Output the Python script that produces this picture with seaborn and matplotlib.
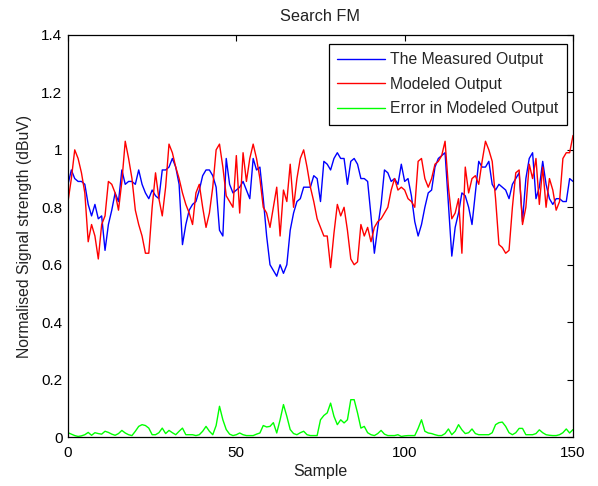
import numpy as np
import pandas as pd
import matplotlib
matplotlib.use("Agg")
import matplotlib.pyplot as plt
import seaborn as sns

samples = list(range(151))

measured = [
    0.88, 0.93, 0.90, 0.89, 0.89, 0.88, 0.81, 0.77, 0.81, 0.76,
    0.77, 0.65, 0.74, 0.79, 0.85, 0.82, 0.93, 0.88, 0.89, 0.89,
    0.88, 0.93, 0.88, 0.85, 0.83, 0.86, 0.84, 0.83, 0.93, 0.93,
    0.94, 0.97, 0.94, 0.88, 0.67, 0.74, 0.79, 0.81, 0.82, 0.86,
    0.91, 0.93, 0.93, 0.91, 0.87, 0.72, 0.70, 0.97, 0.88, 0.85,
    0.86, 0.87, 0.89, 0.86, 0.83, 0.97, 0.93, 0.94, 0.83, 0.70,
    0.60, 0.58, 0.56, 0.60, 0.57, 0.60, 0.72, 0.78, 0.82, 0.83,
    0.87, 0.87, 0.87, 0.91, 0.90, 0.82, 0.96, 0.95, 0.93, 0.97,
    0.99, 0.97, 0.97, 0.88, 0.96, 0.97, 0.95, 0.90, 0.90, 0.89,
    0.77, 0.64, 0.73, 0.81, 0.93, 0.92, 0.89, 0.90, 0.88, 0.95,
    0.89, 0.90, 0.84, 0.75, 0.70, 0.74, 0.80, 0.85, 0.86, 0.94,
    0.97, 0.98, 0.99, 0.81, 0.63, 0.73, 0.78, 0.85, 0.84, 0.80,
    0.74, 0.85, 0.96, 0.94, 0.94, 0.96, 0.88, 0.86, 0.88, 0.87,
    0.86, 0.83, 0.88, 0.90, 0.92, 0.75, 0.90, 0.97, 0.99, 0.83,
    0.87, 0.96, 0.88, 0.83, 0.81, 0.83, 0.83, 0.82, 0.82, 0.90,
    0.89,
]

modeled = [
    0.82, 0.90, 1.00, 0.97, 0.92, 0.85, 0.68, 0.74, 0.70, 0.62,
    0.74, 0.77, 0.89, 0.88, 0.85, 0.79, 0.89, 1.03, 0.97, 0.90,
    0.79, 0.74, 0.70, 0.64, 0.64, 0.80, 0.92, 0.83, 0.77, 0.87,
    1.02, 0.99, 0.94, 0.90, 0.85, 0.81, 0.78, 0.74, 0.85, 0.88,
    0.80, 0.73, 0.78, 0.87, 1.00, 1.02, 0.94, 0.84, 0.82, 0.80,
    0.98, 0.78, 0.99, 0.89, 0.97, 1.02, 0.97, 0.90, 0.80, 0.78,
    0.73, 0.80, 0.87, 0.70, 0.86, 0.82, 0.95, 0.80, 0.90, 0.97,
    1.00, 0.94, 0.87, 0.82, 0.76, 0.73, 0.70, 0.70, 0.59, 0.71,
    0.81, 0.77, 0.80, 0.72, 0.62, 0.60, 0.61, 0.74, 0.70, 0.73,
    0.68, 0.73, 0.75, 0.76, 0.78, 0.80, 0.86, 0.90, 0.86, 0.87,
    0.86, 0.83, 0.82, 0.80, 0.96, 0.97, 0.90, 0.87, 0.90, 0.95,
    0.96, 0.98, 1.03, 0.87, 0.76, 0.78, 0.83, 0.64, 0.94, 0.85,
    0.90, 0.91, 0.88, 0.96, 1.03, 1.00, 0.96, 0.83, 0.67, 0.66,
    0.64, 0.65, 0.80, 0.92, 0.93, 0.74, 0.80, 0.95, 0.90, 0.97,
    0.81, 0.94, 0.80, 0.90, 0.86, 0.79, 0.82, 0.97, 0.99, 0.99,
    1.05,
]

error = [
    0.015, 0.010, 0.005, 0.002, 0.004, 0.008, 0.016, 0.006, 0.015, 0.012,
    0.010, 0.020, 0.016, 0.010, 0.006, 0.012, 0.023, 0.014, 0.008, 0.005,
    0.020, 0.037, 0.043, 0.040, 0.031, 0.008, 0.008, 0.015, 0.031, 0.012,
    0.023, 0.015, 0.008, 0.020, 0.031, 0.008, 0.008, 0.008, 0.005, 0.008,
    0.020, 0.037, 0.020, 0.008, 0.040, 0.107, 0.060, 0.026, 0.010, 0.005,
    0.008, 0.014, 0.008, 0.005, 0.005, 0.005, 0.010, 0.014, 0.040, 0.035,
    0.037, 0.050, 0.014, 0.060, 0.113, 0.072, 0.026, 0.012, 0.008, 0.015,
    0.020, 0.008, 0.005, 0.005, 0.005, 0.060, 0.075, 0.084, 0.118, 0.072,
    0.043, 0.060, 0.049, 0.060, 0.130, 0.130, 0.084, 0.031, 0.037, 0.015,
    0.008, 0.005, 0.012, 0.023, 0.010, 0.005, 0.005, 0.005, 0.008, 0.002,
    0.004, 0.005, 0.005, 0.005, 0.030, 0.060, 0.020, 0.014, 0.012, 0.008,
    0.005, 0.005, 0.012, 0.028, 0.008, 0.020, 0.043, 0.025, 0.012, 0.015,
    0.028, 0.012, 0.008, 0.008, 0.008, 0.008, 0.015, 0.043, 0.050, 0.052,
    0.037, 0.015, 0.008, 0.015, 0.030, 0.030, 0.008, 0.008, 0.008, 0.012,
    0.025, 0.015, 0.008, 0.006, 0.005, 0.005, 0.008, 0.015, 0.028, 0.014,
    0.026,
]

labels = ["The Measured Output", "Modeled Output", "Error in Modeled Output"]
colors = ["#0000ff", "#ff0000", "#00ff00"]
x_ticks = [0, 50, 100, 150]
y_ticks = [0, 0.2, 0.4, 0.6, 0.8, 1.0, 1.2, 1.4]
y_tick_labels = ["0", "0.2", "0.4", "0.6", "0.8", "1", "1.2", "1.4"]

sns.set_theme(style="white")
plt.rcParams["font.family"] = ["Liberation Sans", "DejaVu Sans"]

fig = plt.figure(figsize=(5.98, 4.86), dpi=100)
ax = fig.add_axes([0.1137, 0.1008, 0.8445, 0.8272])

for series, lab, col in zip([measured, modeled, error], labels, colors):
    sns.lineplot(x=samples, y=series, ax=ax, color=col, label=lab, linewidth=1.0)

ax.set_xlim(0, 150)
ax.set_ylim(0, 1.4)
ax.set_xticks(x_ticks)
ax.set_yticks(y_ticks)
ax.set_yticklabels(y_tick_labels)
ax.tick_params(direction="in", length=4, width=0.8, colors="black",
               labelsize=11, top=True, right=True)
ax.tick_params(axis="x", pad=6.5)
ax.tick_params(axis="y", pad=4)
for sp in ax.spines.values():
    sp.set_color("black")
    sp.set_linewidth(0.9)

ax.set_title("Search FM", fontsize=11.7, color="#222222", pad=10)
ax.set_xlabel("Sample", fontsize=11.5, color="#222222", labelpad=3)
ax.set_ylabel("Normalised Signal strength (dBuV)", fontsize=11.3, color="#222222", labelpad=7)

leg = ax.legend(loc="upper right", fontsize=11.3, frameon=True, fancybox=False,
                edgecolor="black", framealpha=1, handlelength=3.0,
                borderpad=0.55, labelspacing=0.6, handletextpad=0.35,
                borderaxespad=0, bbox_to_anchor=(0.988, 0.978))
leg.get_frame().set_linewidth(0.9)

fig.savefig("out.png", dpi=100, facecolor="white")
